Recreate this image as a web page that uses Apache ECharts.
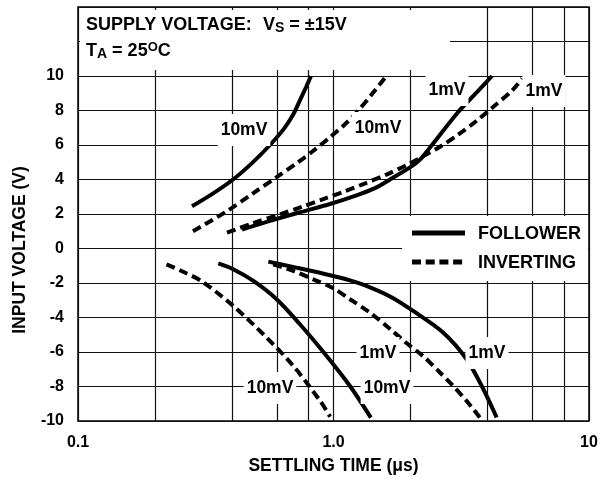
<!DOCTYPE html>
<html><head><meta charset="utf-8">
<script src="https://cdn.jsdelivr.net/npm/echarts@6/dist/echarts.min.js"></script>
<style>html,body{margin:0;padding:0;background:#fff}#c{width:602px;height:480px}</style>
</head><body><div id="c"></div>
<script>
// ---- data ----
const xTickValues = [0.1, 1, 10];
const xTickLabels = ['0.1', '1.0', '10'];
const xMinorGrid = [0.2, 0.4, 0.6, 0.8, 2, 4, 6, 8];
const yMin = -10, yMax = 14, yStep = 2, yLabelMax = 10;

const followerPos10 = [[0.2794,2.45],[0.3346,3.15],[0.4044,4.0],[0.4797,4.95],[0.5641,6.0],[0.6404,6.95],[0.6945,7.75],[0.7395,8.6],[0.7806,9.35],[0.8165,10]];
const invertingPos10 = [[0.2818,1.0],[0.3866,2.2],[0.4841,3.2],[0.601,4.15],[0.7262,5.0],[0.8316,5.65],[0.969,6.45],[1.0993,7.15],[1.2252,7.85],[1.4149,8.95],[1.591,9.9]];
const followerPos1 = [[0.4385,1.1],[0.5641,1.6],[0.7395,2.1],[0.969,2.58],[1.2143,3.05],[1.4537,3.5],[1.6638,4.0],[1.9922,4.7],[2.18,5.15],[2.4293,6.0],[3.0713,7.9],[3.58,8.95],[4.1727,10]];
const invertingPos1 = [[0.3831,0.92],[0.4797,1.45],[0.6174,1.98],[0.7529,2.42],[0.918,2.88],[1.1092,3.32],[1.3165,3.75],[1.6196,4.3],[1.9401,4.85],[2.261,5.38],[2.6116,5.9],[3.0441,6.55],[3.6447,7.42],[4.2484,8.25],[4.9955,9.15],[5.4676,9.85]];
const followerNeg10 = [[0.354,-0.86],[0.405,-1.2],[0.486,-1.88],[0.599,-2.94],[0.739,-4.39],[0.94,-6.23],[1.16,-7.97],[1.40,-9.8]];
const invertingNeg10 = [[0.222,-0.92],[0.258,-1.35],[0.305,-1.9],[0.405,-3.33],[0.548,-5.17],[0.696,-6.81],[0.887,-8.84],[0.97,-9.75]];
const followerNeg1 = [[0.556,-0.76],[0.7,-1.08],[0.969,-1.55],[1.16,-1.85],[1.39,-2.25],[1.7,-2.85],[2.05,-3.62],[2.69,-4.88],[3.32,-6.42],[3.86,-8.16],[4.35,-9.8]];
const invertingNeg1 = [[0.581,-0.92],[0.696,-1.3],[0.834,-1.79],[0.998,-2.3],[1.16,-2.94],[1.39,-3.72],[1.66,-4.65],[1.93,-5.48],[2.247,-6.25],[2.61,-7.19],[2.94,-7.97],[3.32,-8.84],[3.74,-9.8]];

const legendNames = ['FOLLOWER', 'INVERTING'];
const curveLabels = ['10mV','10mV','1mV','1mV','1mV','1mV','10mV','10mV'];

// ---- chart ----
const FONT = '"Liberation Sans", Arial, Helvetica, sans-serif';
const chart = echarts.init(document.getElementById('c'), null, {renderer: 'canvas'});

function curve(name, data, dashed) {
  return {
    type: 'line', name: name, data: data, showSymbol: false, symbol: 'none',
    smooth: 0.3, silent: true, z: 3,
    lineStyle: {color: '#000', width: 4, type: dashed ? [9, 5] : 'solid', cap: 'butt'}
  };
}

const labelPos = [[244,130],[378,128],[447,90],[544,91],[378,353],[487,353],[387,388],[270,388]];
const labelGraphics = curveLabels.map((t, i) => ({
  type: 'text', x: labelPos[i][0], y: labelPos[i][1], z: 100,
  style: {text: t, fontSize: 17.5, fontWeight: 'bold', fontFamily: FONT, fill: '#000',
          align: 'center', verticalAlign: 'middle', backgroundColor: '#fff', padding: [7, 3]}
}));

const titleFont = {fontSize: 17.5, fontWeight: 'bold', fontFamily: FONT, fill: '#000'};

const option = {
  animation: false,
  backgroundColor: '#fff',
  grid: {left: 78, right: 13, top: 7, bottom: 58, show: true, borderColor: '#000', borderWidth: 1.5, backgroundColor: 'transparent'},
  xAxis: {
    type: 'log', logBase: 10, min: 0.1, max: 10,
    axisLine: {show: false}, axisTick: {show: false},
    splitLine: {show: true, lineStyle: {color: '#111', width: 1.2}},
    axisLabel: {
      margin: 14, fontSize: 16, fontWeight: 'bold', fontFamily: FONT, color: '#000',
      formatter: v => { const i = xTickValues.findIndex(t => Math.abs(t - v) < 1e-9); return i >= 0 ? xTickLabels[i] : ''; }
    },
    name: 'SETTLING TIME (μs)', nameLocation: 'middle', nameGap: 36,
    nameTextStyle: {fontSize: 17.5, fontWeight: 'bold', fontFamily: FONT, color: '#000'}
  },
  yAxis: {
    type: 'value', min: yMin, max: yMax, interval: yStep,
    axisLine: {show: false}, axisTick: {show: false},
    splitLine: {show: true, lineStyle: {color: '#111', width: 1.2}},
    axisLabel: {
      margin: 14, fontSize: 16, fontWeight: 'bold', fontFamily: FONT, color: '#000',
      formatter: v => (v > yLabelMax ? '' : String(v))
    }
  },
  series: [
    {type: 'line', data: [], silent: true, z: 1,
     markLine: {silent: true, symbol: ['none', 'none'], label: {show: false},
       lineStyle: {color: '#111', width: 1.2, type: 'solid'},
       emphasis: {disabled: true},
       data: xMinorGrid.map(v => ({xAxis: v}))}},
    curve(legendNames[0], followerPos10, false),
    curve(legendNames[1], invertingPos10, true),
    curve(legendNames[0], followerPos1, false),
    curve(legendNames[1], invertingPos1, true),
    curve(legendNames[0], followerNeg10, false),
    curve(legendNames[1], invertingNeg10, true),
    curve(legendNames[0], followerNeg1, false),
    curve(legendNames[1], invertingNeg1, true)
  ],
  graphic: [
    // header box
    {type: 'rect', z: 90, shape: {x: 80, y: 10, width: 370, height: 60}, style: {fill: '#fff'}},
    {type: 'text', z: 100, x: 86, y: 14,
     style: {text: 'SUPPLY VOLTAGE:', fontSize: 18, fontWeight: 'bold', fontFamily: FONT, fill: '#000', verticalAlign: 'top', lineHeight: 22}},
    {type: 'text', z: 100, x: 263, y: 14,
     style: {text: '{m|V}{s|S}{m| = ±15V}', verticalAlign: 'top', fill: '#000',
       rich: {
         m: {fontSize: 18, fontWeight: 'bold', fontFamily: FONT, lineHeight: 22, fill: '#000'},
         s: {fontSize: 14, fontWeight: 'bold', fontFamily: FONT, lineHeight: 15, padding: [7, 0, 0, 0], fill: '#000'}
       }}},
    {type: 'text', z: 100, x: 86, y: 40,
     style: {text: '{m|T}{s|A}{m| = 25}{p|O}{m|C}', verticalAlign: 'top', fill: '#000',
       rich: {
         m: {fontSize: 18, fontWeight: 'bold', fontFamily: FONT, lineHeight: 22, fill: '#000'},
         s: {fontSize: 14, fontWeight: 'bold', fontFamily: FONT, lineHeight: 15, padding: [7, 0, 0, 0], fill: '#000'},
         p: {fontSize: 13, fontWeight: 'bold', fontFamily: FONT, lineHeight: 15, padding: [0, 0, 8, 0], fill: '#000'}
       }}},
    // legend box
    {type: 'rect', z: 90, shape: {x: 402, y: 216, width: 186, height: 65}, style: {fill: '#fff'}},
    {type: 'line', z: 100, shape: {x1: 412, y1: 233, x2: 465, y2: 233}, style: {stroke: '#000', lineWidth: 5}},
    {type: 'line', z: 100, shape: {x1: 412, y1: 262, x2: 463, y2: 262}, style: {stroke: '#000', lineWidth: 5, lineDash: [9, 4.7]}},
    {type: 'text', z: 100, x: 478, y: 234.5,
     style: {text: legendNames[0], fontSize: 18, fontWeight: 'bold', fontFamily: FONT, fill: '#000', verticalAlign: 'middle'}},
    {type: 'text', z: 100, x: 478, y: 263.5,
     style: {text: legendNames[1], fontSize: 18, fontWeight: 'bold', fontFamily: FONT, fill: '#000', verticalAlign: 'middle'}},
    // y axis title
    {type: 'text', z: 100, x: 20, y: 250, rotation: Math.PI / 2,
     style: Object.assign({text: 'INPUT VOLTAGE (V)', align: 'center', verticalAlign: 'middle'}, titleFont)}
  ].concat(labelGraphics)
};
chart.setOption(option);
</script>
</body></html>
